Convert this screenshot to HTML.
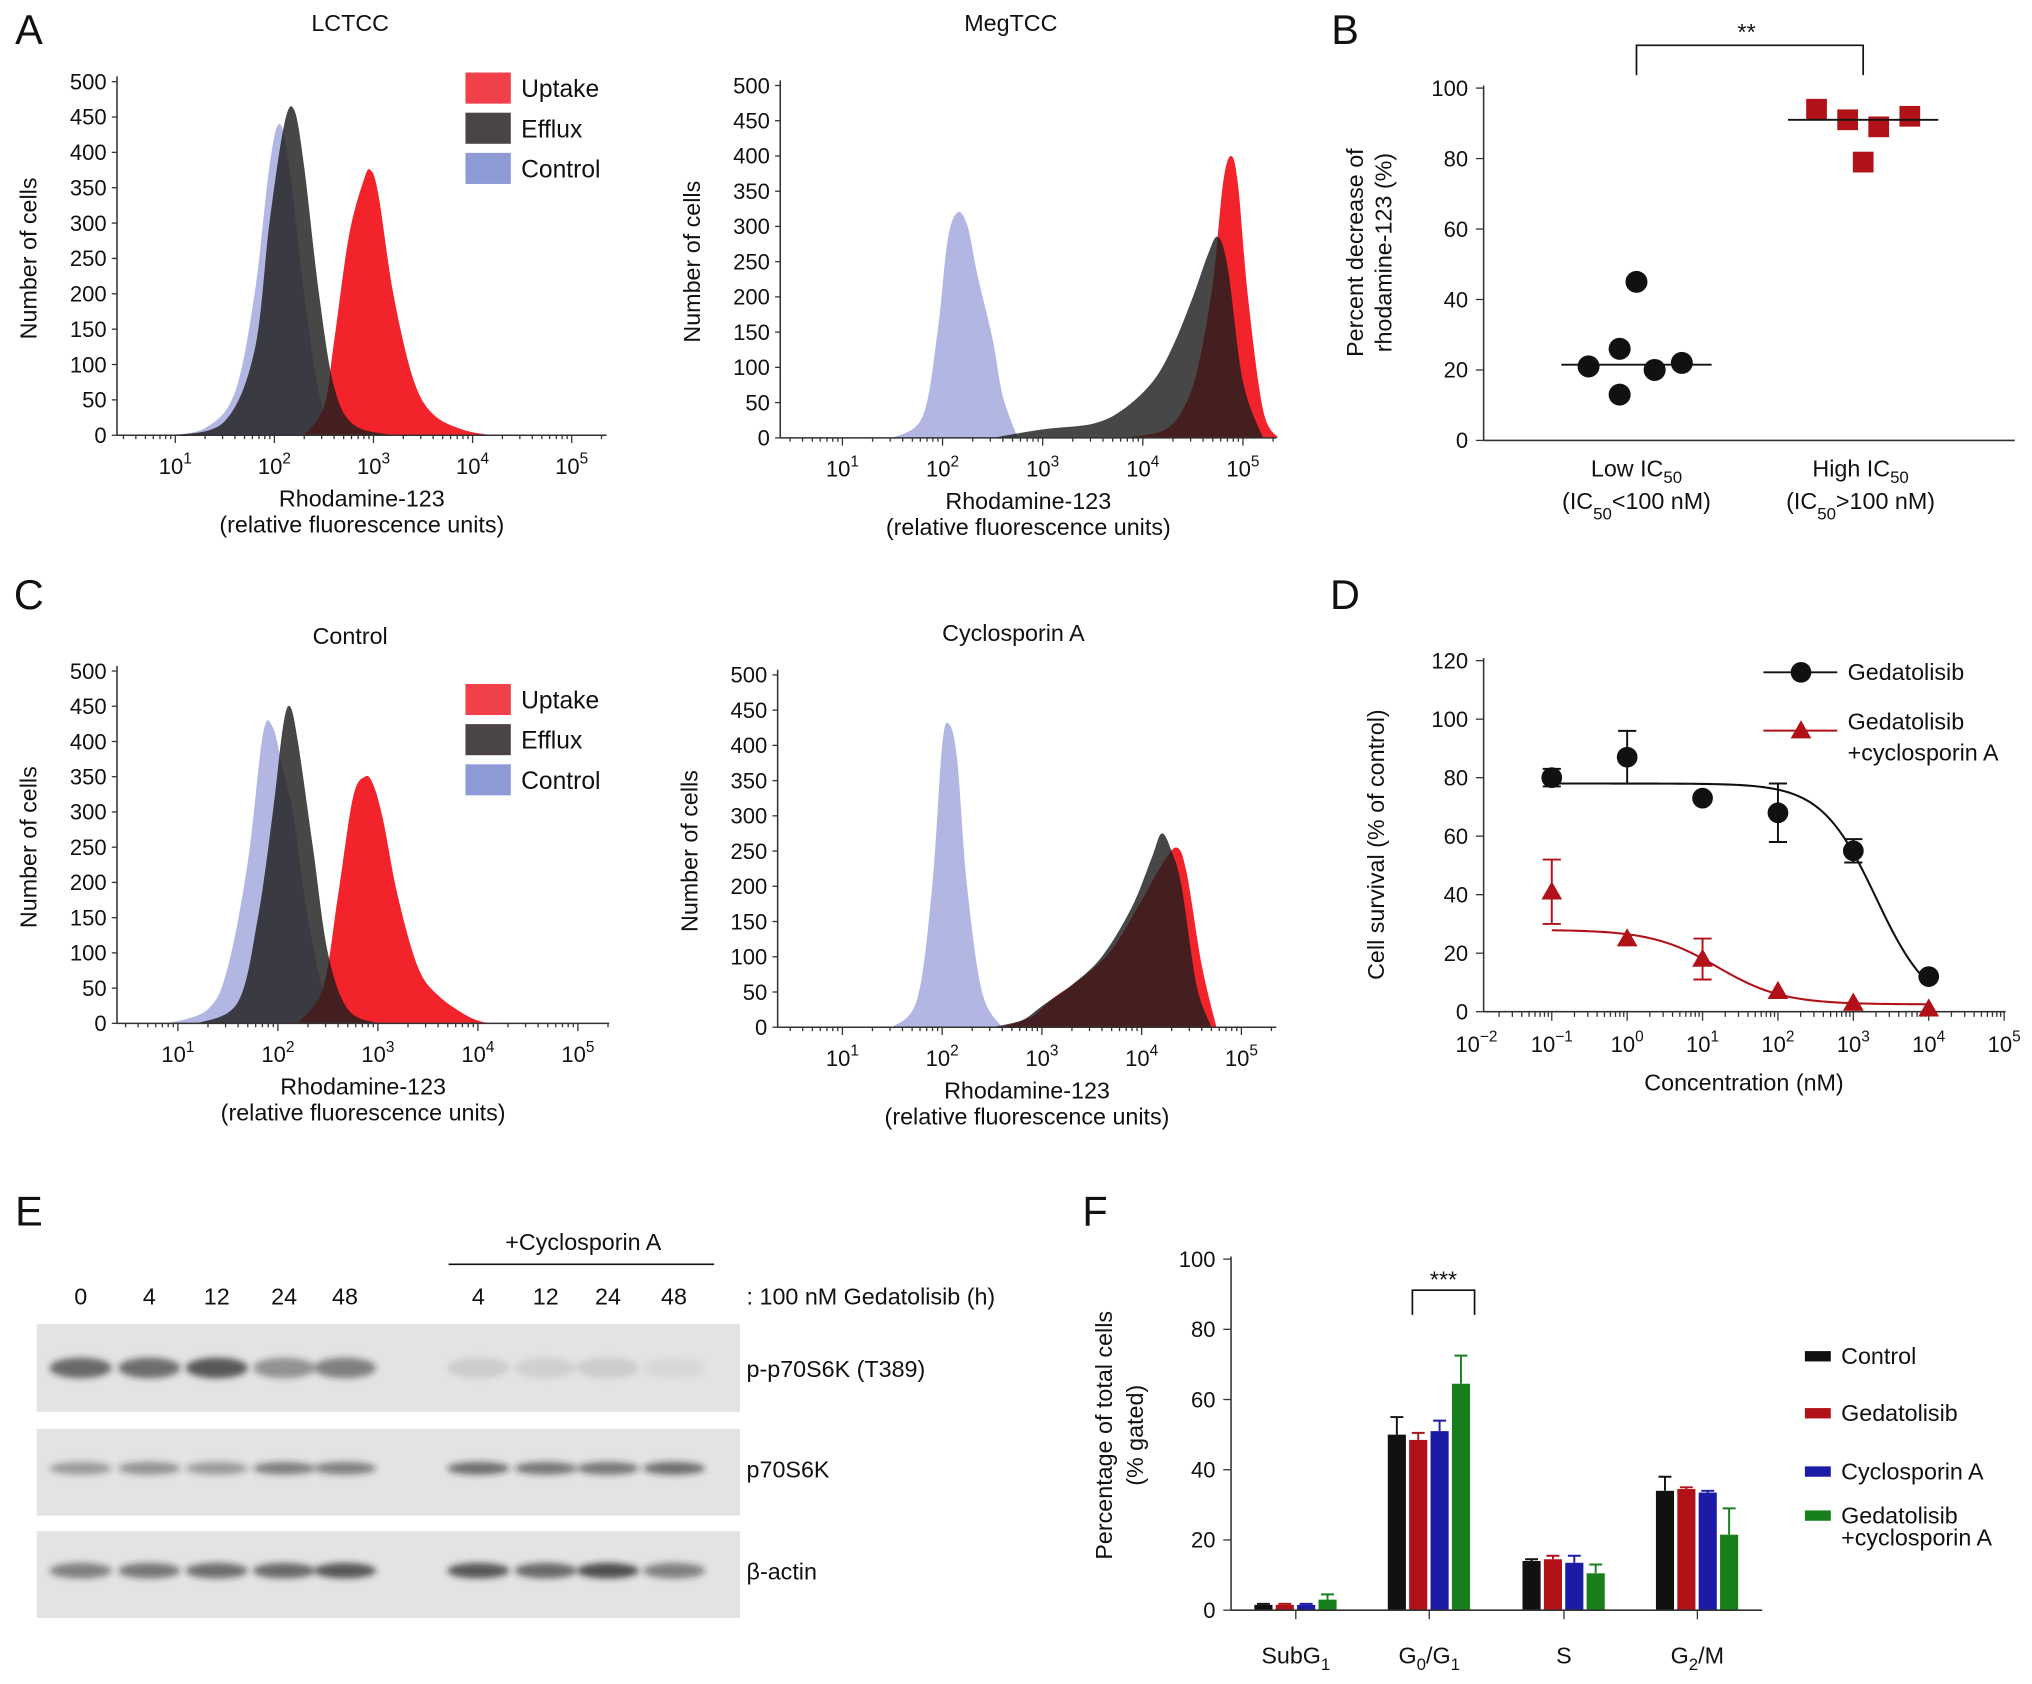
<!DOCTYPE html>
<html><head><meta charset="utf-8"><style>
html,body{margin:0;padding:0;background:#fff}
svg{display:block;font-family:"Liberation Sans",Arial,sans-serif}
</style></head><body>
<svg id="fig" width="2032" height="1684" viewBox="0 0 1568 1300" xmlns="http://www.w3.org/2000/svg">
<defs><filter id="blur" x="-30%" y="-80%" width="160%" height="260%"><feGaussianBlur stdDeviation="2.5"/></filter></defs>
<g id="blot"></g>
</svg>
<script>
// ---------- DATA ----------
const histLCx_blue=[0.9,1.3,1.6,1.8,1.95,2.05,2.15,2.3,2.45,2.6,2.9];
const histLCy_blue=[0,10,60,200,380,440,380,200,60,10,0];
const histLCx_black=[1.0,1.5,1.8,1.95,2.1,2.2,2.3,2.45,2.6,2.8,3.2];
const histLCy_black=[0,20,120,300,440,460,380,200,70,15,0];
const histLCx_red=[2.3,2.5,2.6,2.75,2.9,2.97,3.05,3.2,3.4,3.6,3.9,4.2];
const histLCy_red=[0,40,130,280,360,375,340,200,80,30,8,0];
const histMGx_blue=[1.5,1.8,1.95,2.05,2.15,2.25,2.35,2.5,2.6,2.75];
const histMGy_blue=[0,30,150,280,320,300,230,140,60,0];
const histMGx_black=[2.5,3.0,3.5,3.8,4.1,4.3,4.5,4.65,4.75,4.85,5.0,5.2];
const histMGy_black=[0,12,20,40,80,130,200,260,285,240,80,0];
const histMGx_red=[3.8,4.2,4.4,4.55,4.7,4.8,4.88,4.95,5.05,5.2,5.35];
const histMGy_red=[0,10,40,100,220,360,400,360,200,40,0];
const histCLx_blue=[0.9,1.3,1.5,1.7,1.85,1.95,2.05,2.15,2.3,2.5,2.8];
const histCLy_blue=[0,20,80,230,410,420,360,300,150,30,0];
const histCLx_black=[1.2,1.6,1.8,1.95,2.05,2.12,2.2,2.35,2.5,2.7,3.0];
const histCLy_black=[0,30,150,300,420,450,400,250,100,20,0];
const histCLx_red=[2.2,2.45,2.6,2.75,2.87,2.95,3.05,3.2,3.4,3.6,3.9,4.1];
const histCLy_red=[0,50,180,320,350,340,290,180,80,40,10,0];
const histCSx_blue=[1.5,1.75,1.9,2.0,2.07,2.15,2.25,2.4,2.6];
const histCSy_blue=[0,40,200,400,430,380,200,50,0];
const histCSx_black=[2.5,2.8,3.0,3.3,3.6,3.9,4.1,4.2,4.3,4.4,4.55,4.7];
const histCSy_black=[0,10,30,60,100,170,240,275,250,200,60,0];
const histCSx_red=[2.6,2.9,3.1,3.4,3.7,4.0,4.2,4.35,4.45,4.6,4.75];
const histCSy_red=[0,15,40,70,110,180,230,255,220,90,0];
const histTicks=[0,50,100,150,200,250,300,350,400,450,500];

const bLow=[45,26,21,13,20,22];
const bLowJit=[0,-13,-37,-13,14,35];
const bHigh=[94,91,89,79,92];
const bHighJit=[-36,-12,12,0,36];
const bTicks=[0,20,40,60,80,100];

const dConc=[-1,0,1,2,3,4];
const dGed=[80,87,73,68,55,12];
const dGedErr=[3,9,0,10,4,0];
const dCsa=[41,25,18,7,3,1];
const dCsaErr=[11,0,7,0,0,0];
const dGedFit=[78,0,3.3,1.2]; // top,bottom,logIC50,hill
const dCsaFit=[28,2.5,1.2,1.0];
const dTicks=[0,20,40,60,80,100,120];

const fGroups=["SubG1","G0/G1","S","G2/M"];
const fControl=[1.5,50,14,34];
const fGed=[1.5,48.5,14.5,34.5];
const fCsa=[1.5,51,13.5,33.5];
const fCombo=[3,64.5,10.5,21.5];
const fControlErr=[0.3,5,0.5,4];
const fGedErr=[0.3,2,1,0.5];
const fCsaErr=[0.3,3,2,0.5];
const fComboErr=[1.5,8,2.5,7.5];
const fTicks=[0,20,40,60,80,100];

const blotLanes=[62,115,167,219,266,369,421,469,520];
const blotLaneLabels=["0","4","12","24","48","4","12","24","48"];
const blotP=[0.75,0.7,0.85,0.5,0.6,0.12,0.1,0.12,0.06];
const blotT=[0.45,0.5,0.45,0.6,0.6,0.7,0.65,0.65,0.7];
const blotA=[0.6,0.65,0.7,0.75,0.85,0.85,0.75,0.9,0.6];

// ---------- helpers ----------
const NS="http://www.w3.org/2000/svg";
const svg=document.getElementById('fig');
function el(tag,attrs,parent){const e=document.createElementNS(NS,tag);for(const k in attrs)e.setAttribute(k,attrs[k]);(parent||svg).appendChild(e);return e;}
function txt(x,y,s,size,anchor,parent,extra){const t=el('text',Object.assign({x:x,y:y,'font-size':size,'text-anchor':anchor||'middle',fill:'#111'},extra||{}),parent);t.textContent=s;return t;}
function pow10(x,y,e,size,parent){const t=el('text',{x:x,y:y,'font-size':size,'text-anchor':'middle',fill:'#111'},parent);const a=document.createElementNS(NS,'tspan');a.textContent='10';t.appendChild(a);const b=document.createElementNS(NS,'tspan');b.setAttribute('dy','-8');b.setAttribute('font-size',size*0.7);b.textContent=e;t.appendChild(b);return t;}
function smooth(pts){let d='M'+pts[0][0]+','+pts[0][1];for(let i=0;i<pts.length-1;i++){const p0=pts[Math.max(0,i-1)],p1=pts[i],p2=pts[i+1],p3=pts[Math.min(pts.length-1,i+2)];const c1=[p1[0]+(p2[0]-p0[0])/6,p1[1]+(p2[1]-p0[1])/6],c2=[p2[0]-(p3[0]-p1[0])/6,p2[1]-(p3[1]-p1[1])/6];d+=' C'+c1[0]+','+c1[1]+' '+c2[0]+','+c2[1]+' '+p2[0]+','+p2[1];}return d;}

// ---------- histogram panel ----------
function histPanel(cfg){
  const g=el('g',{});
  
  
  const X=v=>cfg.x10+(v-1)*cfg.dec, Y=v=>cfg.y0-(v/500)*(cfg.y0-cfg.y500);
  const series=[[cfg.bx,cfg.by,'#a9aee0',0.9,'control'],[cfg.rx,cfg.ry,'#f2232b',1,'uptake'],[cfg.kx,cfg.ky,'#1e1e1e',0.82,'efflux']];
  series.forEach(s=>{const pts=s[0].map((v,i)=>[X(v),Y(s[1][i])]);const p=el('path',{d:smooth(pts)+' Z',fill:s[2],'fill-opacity':s[3],stroke:'none'},g);
    
    });
  el('line',{x1:cfg.ax0,y1:cfg.y0,x2:cfg.ax1,y2:cfg.y0,stroke:'#333','stroke-width':1.2},g);
  el('line',{x1:cfg.ax0,y1:cfg.y0,x2:cfg.ax0,y2:cfg.y500-4,stroke:'#333','stroke-width':1.2},g);
  histTicks.forEach(t=>{el('line',{x1:cfg.ax0-4,y1:Y(t),x2:cfg.ax0,y2:Y(t),stroke:'#333'},g);txt(cfg.ax0-8,Y(t)+6,String(t),17,'end',g);});
  for(let d=0;d<=5;d++){for(let m=1;m<10;m++){const lv=d+Math.log10(m);const xx=X(lv);if(xx<cfg.ax0||xx>cfg.ax1)continue;el('line',{x1:xx,y1:cfg.y0,x2:xx,y2:cfg.y0+(m==1?6:3),stroke:'#333'},g);}
    if(d>=1){pow10(X(d),cfg.y0+30,String(d),17,g);}}
  txt(cfg.ax0-62,(cfg.y0+cfg.y500)/2,'Number of cells',18,'middle',g,{transform:'rotate(-90 '+(cfg.ax0-62)+' '+(cfg.y0+cfg.y500)/2+')'});
  txt((cfg.ax0+cfg.ax1)/2,cfg.y0+55,'Rhodamine-123',18,'middle',g);
  txt((cfg.ax0+cfg.ax1)/2,cfg.y0+75,'(relative fluorescence units)',18,'middle',g);
  txt(cfg.tx,cfg.title,cfg.titleText,18,'middle',g);
  if(cfg.legend){const L=[['Uptake','#f2404a'],['Efflux','#4a4444'],['Control','#8e9ad6']];L.forEach((l,i)=>{const ly=cfg.legend[1]+i*31;const r=el('rect',{x:cfg.legend[0],y:ly-13,width:35,height:24,fill:l[1]},g);
    
    
    txt(cfg.legend[0]+43,ly+6,l[0],19,'start',g);});}
}
histPanel({name:'panel-a-lctcc',x10:135,dec:76.5,y0:336,y500:63,ax0:90,ax1:468,bx:histLCx_blue,by:histLCy_blue,kx:histLCx_black,ky:histLCy_black,rx:histLCx_red,ry:histLCy_red,title:24,tx:270,titleText:'LCTCC',legend:[359,69]});
histPanel({name:'panel-a-megtcc',x10:650,dec:77.3,y0:338,y500:66,ax0:602,ax1:985,bx:histMGx_blue,by:histMGy_blue,kx:histMGx_black,ky:histMGy_black,rx:histMGx_red,ry:histMGy_red,title:24,tx:780,titleText:'MegTCC'});
histPanel({name:'panel-c-control',x10:137,dec:77.2,y0:790,y500:518,ax0:90,ax1:470,bx:histCLx_blue,by:histCLy_blue,kx:histCLx_black,ky:histCLy_black,rx:histCLx_red,ry:histCLy_red,title:497,tx:270,titleText:'Control',legend:[359,541]});
histPanel({name:'panel-c-cyclosporin',x10:650,dec:77,y0:793,y500:521,ax0:600,ax1:985,bx:histCSx_blue,by:histCSy_blue,kx:histCSx_black,ky:histCSy_black,rx:histCSx_red,ry:histCSy_red,title:495,tx:782,titleText:'Cyclosporin A'});
// ---------- panel letters ----------
[['A',22,34],['B',1038,34],['C',22,470],['D',1038,470],['E',22,946],['F',845,946]].forEach(l=>{const t=txt(l[1],l[2],l[0],32,'middle');
  
  });

// ---------- panel B ----------
(function(){const g=el('g',{});
  
  
  const Y=v=>340-v/100*272;
  el('line',{x1:1145,y1:340,x2:1555,y2:340,stroke:'#333','stroke-width':1.2},g);
  el('line',{x1:1145,y1:340,x2:1145,y2:66,stroke:'#333','stroke-width':1.2},g);
  bTicks.forEach(t=>{el('line',{x1:1139,y1:Y(t),x2:1145,y2:Y(t),stroke:'#333'},g);txt(1133,Y(t)+6,String(t),17,'end',g);});
  txt(1052,195,'Percent decrease of',18,'middle',g,{transform:'rotate(-90 1052 195)'});
  txt(1074,195,'rhodamine-123 (%)',18,'middle',g,{transform:'rotate(-90 1074 195)'});
  const med=a=>{const s=[...a].sort((p,q)=>p-q);const n=s.length;return n%2?s[(n-1)/2]:(s[n/2-1]+s[n/2])/2;};
  bLow.forEach((v,i)=>{const c=el('circle',{cx:1263+bLowJit[i],cy:Y(v),r:8.5,fill:'#111'},g);
    
    });
  bHigh.forEach((v,i)=>{const r=el('rect',{x:1438+bHighJit[i]-8,y:Y(v)-8,width:16,height:16,fill:'#b01218'},g);
    
    });
  el('line',{x1:1205,y1:Y(med(bLow)),x2:1321,y2:Y(med(bLow)),stroke:'#111','stroke-width':1.5},g);
  el('line',{x1:1380,y1:Y(med(bHigh)),x2:1496,y2:Y(med(bHigh)),stroke:'#111','stroke-width':1.5},g);
  el('path',{d:'M1263,58 V35 H1438 V58',fill:'none',stroke:'#111','stroke-width':1.3},g);
  txt(1348,31,'**',18,'middle',g);
  [[1263,'Low IC','50','(IC','50','<100 nM)'],[1436,'High IC','50','(IC','50','>100 nM)']].forEach(a=>{
    const t=el('text',{x:a[0],y:368,'font-size':18,'text-anchor':'middle',fill:'#111'},g);t.innerHTML=a[1]+'<tspan font-size="13" dy="5">'+a[2]+'</tspan>';
    const t2=el('text',{x:a[0],y:393,'font-size':18,'text-anchor':'middle',fill:'#111'},g);t2.innerHTML=a[3]+'<tspan font-size="13" dy="8">'+a[4]+'</tspan><tspan dy="-8">'+a[5]+'</tspan>';});
})();

// ---------- panel D ----------
(function(){const g=el('g',{});
  
  
  const X=v=>1255.8+v*58.2, Y=v=>781-v/120*271;
  el('line',{x1:1145,y1:781,x2:1548,y2:781,stroke:'#333','stroke-width':1.2},g);
  el('line',{x1:1145,y1:781,x2:1145,y2:508,stroke:'#333','stroke-width':1.2},g);
  dTicks.forEach(t=>{el('line',{x1:1139,y1:Y(t),x2:1145,y2:Y(t),stroke:'#333'},g);txt(1133,Y(t)+6,String(t),17,'end',g);});
  for(let d=-2;d<=5;d++){for(let m=1;m<10;m++){if(d==5&&m>1)break;const xx=X(d+Math.log10(m));if(xx<1145)continue;el('line',{x1:xx,y1:781,x2:xx,y2:781+(m==1?7:4),stroke:'#333'},g);}
    pow10(X(d),812,String(d==-2?'−2':d==-1?'−1':d),17,g);}
  txt(1346,842,'Concentration (nM)',18,'middle',g);
  txt(1068,652,'Cell survival (% of control)',18,'middle',g,{transform:'rotate(-90 1068 652)'});
  function fit(p,color,name){let pts=[];for(let l=-1;l<=4.001;l+=0.05){pts.push([X(l),Y(p[1]+(p[0]-p[1])/(1+Math.pow(10,(l-p[2])*p[3])))]);}
    const c=el('path',{d:'M'+pts.map(q=>q.join(',')).join(' L'),fill:'none',stroke:color,'stroke-width':1.6},g);
    
    }
  fit(dGedFit,'#111','gedatolisib-fit-curve');fit(dCsaFit,'#b01218','combo-fit-curve');
  function errs(vals,err,color){vals.forEach((v,i)=>{if(err[i]>0){const x=X(dConc[i]);el('path',{d:`M${x},${Y(v-err[i])} V${Y(v+err[i])} M${x-7},${Y(v-err[i])} h14 M${x-7},${Y(v+err[i])} h14`,stroke:color,'stroke-width':1.5,fill:'none'},g);}});}
  errs(dGed,dGedErr,'#111');errs(dCsa,dCsaErr,'#b01218');
  dGed.forEach((v,i)=>{const c=el('circle',{cx:X(dConc[i]),cy:Y(v),r:8,fill:'#111'},g);
    
    });
  dCsa.forEach((v,i)=>{const x=X(dConc[i]),y=Y(v);const p=el('path',{d:`M${x},${y-8} L${x+8},${y+6} L${x-8},${y+6} Z`,fill:'#b01218'},g);
    
    });
  el('line',{x1:1361,y1:519,x2:1418,y2:519,stroke:'#111','stroke-width':1.5},g);el('circle',{cx:1390,cy:519,r:8,fill:'#111'},g);
  txt(1426,525,'Gedatolisib',18,'start',g);
  el('line',{x1:1361,y1:564,x2:1418,y2:564,stroke:'#b01218','stroke-width':1.5},g);el('path',{d:'M1390,556 L1398,570 L1382,570 Z',fill:'#b01218'},g);
  txt(1426,563,'Gedatolisib',18,'start',g);txt(1426,587,'+cyclosporin A',18,'start',g);
})();

// ---------- panel E blot ----------
(function(){const g=document.getElementById('blot');
  const rows=[[1022,1090,blotP,8,'p-p70S6K (T389)'],[1103,1170,blotT,5,'p70S6K'],[1182,1249,blotA,6,'β-actin']];
  rows.forEach((r,ri)=>{const rc=el('rect',{x:28,y:r[0],width:543,height:r[1]-r[0],fill:'#e3e3e3'},g);
    
    
    const cy=(r[0]+r[1])/2+(ri==0?0:-3);
    r[2].forEach((a,i)=>{const b=el('ellipse',{cx:blotLanes[i],cy:cy,rx:24,ry:r[3],fill:'#222','fill-opacity':a*0.85,filter:'url(#blur)'},g);
      
      });
    txt(576,cy+7,r[4],18,'start',g);});
  blotLaneLabels.forEach((l,i)=>txt(blotLanes[i],1007,l,18,'middle',g));
  txt(576,1007,': 100 nM Gedatolisib (h)',18,'start',g);
  txt(450,965,'+Cyclosporin A',18,'middle',g);
  el('line',{x1:346,y1:976,x2:551,y2:976,stroke:'#111','stroke-width':1.3},g);
})();

// ---------- panel F ----------
(function(){const g=el('g',{});
  
  
  const Y=v=>1243-v/100*271;
  const centers=[1000,1103,1207,1310];
  const series=[[fControl,fControlErr,'#111','control'],[fGed,fGedErr,'#b01218','gedatolisib'],[fCsa,fCsaErr,'#1b1ba6','cyclosporin'],[fCombo,fComboErr,'#17801d','combo']];
  series.forEach((s,si)=>{s[0].forEach((v,i)=>{const x=centers[i]-32+si*16.5;
    el('path',{d:`M${x+7},${Y(v)} V${Y(v+s[1][i])} M${x+2},${Y(v+s[1][i])} h10`,stroke:s[2],'stroke-width':1.5},g);
    const b=el('rect',{x:x,y:Y(v),width:14,height:1243-Y(v),fill:s[2]},g);
    
    });});
  el('line',{x1:950,y1:1243,x2:1360,y2:1243,stroke:'#333','stroke-width':1.2},g);
  el('line',{x1:950,y1:1243,x2:950,y2:970,stroke:'#333','stroke-width':1.2},g);
  fTicks.forEach(t=>{el('line',{x1:944,y1:Y(t),x2:950,y2:Y(t),stroke:'#333'},g);txt(938,Y(t)+6,String(t),17,'end',g);});
  centers.forEach(c=>el('line',{x1:c,y1:1243,x2:c,y2:1250,stroke:'#333'},g));
  const labs=['SubG<tspan font-size="13" dy="5">1</tspan>','G<tspan font-size="13" dy="5">0</tspan><tspan dy="-5">/G</tspan><tspan font-size="13" dy="5">1</tspan>','S','G<tspan font-size="13" dy="5">2</tspan><tspan dy="-5">/M</tspan>'];
  labs.forEach((l,i)=>{const t=el('text',{x:centers[i],y:1284,'font-size':18,'text-anchor':'middle',fill:'#111'},g);t.innerHTML=l;});
  txt(858,1108,'Percentage of total cells',18,'middle',g,{transform:'rotate(-90 858 1108)'});
  txt(882,1108,'(% gated)',18,'middle',g,{transform:'rotate(-90 882 1108)'});
  el('path',{d:'M1090,1015 V996 H1138 V1015',fill:'none',stroke:'#111','stroke-width':1.3},g);
  txt(1114,994,'***',18,'middle',g);
  const L=[['Control',1047,'#111'],['Gedatolisib',1091,'#b01218'],['Cyclosporin A',1136,'#1b1ba6'],['Gedatolisib',1170,'#17801d']];
  L.forEach(l=>{const r=el('rect',{x:1393,y:l[1]-4,width:20,height:8,fill:l[2]},g);
    
    
    txt(1421,l[1]+6,l[0],18,'start',g);});
  txt(1421,1193,'+cyclosporin A',18,'start',g);
})();
</script>
</body></html>
